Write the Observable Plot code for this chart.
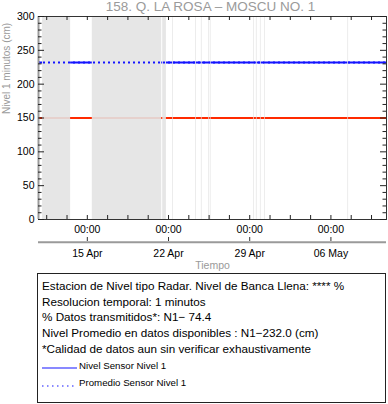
<!DOCTYPE html>
<html><head><meta charset="utf-8">
<script src="https://cdn.jsdelivr.net/npm/d3@7"></script>
<script src="https://cdn.jsdelivr.net/npm/@observablehq/plot@0.6"></script>
<style>
body{margin:0;background:#fff;font-family:"Liberation Sans",Arial,sans-serif;}
#wrap{position:relative;width:388px;height:404px;overflow:hidden;}
#chart{position:absolute;left:0;top:0;}
#leyenda{position:absolute;left:37px;top:273px;width:349px;height:130px;border:1px solid #222;box-sizing:border-box;}
.l{position:absolute;left:4px;white-space:nowrap;color:#000;font-size:11.7px;line-height:16px;height:16px;}
.s{position:absolute;left:41px;white-space:nowrap;color:#000;font-size:9.7px;line-height:12px;height:12px;}
.m{position:absolute;left:4px;width:36px;height:4px;overflow:visible;}
</style></head>
<body><div id="wrap"><div id="chart"></div><div id="leyenda"></div></div>
<script>
const titulo = "158. Q. LA ROSA – MOSCU NO. 1";
const etiquetaY = "Nivel 1 minutos (cm)";
const etiquetaX = "Tiempo";
const inicio = "2024-04-10T19:00Z";
const fin = "2024-05-10T19:00Z";
const fechasEtiqueta = ["2024-04-15T00:00Z", "2024-04-22T00:00Z", "2024-04-29T00:00Z", "2024-05-06T00:00Z"];
const etiquetaHora = "00:00";
// periods without transmitted data (gray)
const huecoInicio = ["2024-04-11T03:25Z", "2024-04-15T10:20Z", "2024-04-21T12:00Z", "2024-04-22T08:30Z",
  "2024-04-24T08:10Z", "2024-04-24T20:00Z", "2024-04-25T11:10Z", "2024-04-25T14:30Z", "2024-04-29T08:20Z",
  "2024-04-29T13:50Z", "2024-04-29T22:10Z", "2024-04-30T07:10Z", "2024-05-07T11:00Z"];
const huecoFin = ["2024-04-13T13:25Z", "2024-04-21T09:55Z", "2024-04-21T19:40Z", "2024-04-22T10:00Z",
  "2024-04-24T09:40Z", "2024-04-24T21:30Z", "2024-04-25T12:40Z", "2024-04-25T16:00Z", "2024-04-29T09:50Z",
  "2024-04-29T15:20Z", "2024-04-29T23:40Z", "2024-04-30T08:40Z", "2024-05-07T12:30Z"];
const nivelSensor = 232.0;
const nivelPromedio = 232.0;
const nivelReferencia = 150;
const ticksY = [0, 50, 100, 150, 200, 250, 300];
const textosLeyenda = [
  "Estacion de Nivel tipo Radar. Nivel de Banca Llena: **** %",
  "Resolucion temporal: 1 minutos",
  "% Datos transmitidos*: N1\u2212 74.4",
  "Nivel Promedio en datos disponibles : N1\u2212232.0 (cm)",
  "*Calidad de datos aun sin verificar exhaustivamente"
];
const seriesLeyenda = ["Nivel Sensor Nivel 1", "Promedio Sensor Nivel 1"];

const W = 388, H = 272, mL = 38, mR = 2, mT = 16, mB = 53;
const fw = W - mL - mR, fh = H - mT - mB;
const t0 = new Date(inicio), t1 = new Date(fin);
const huecos = huecoInicio.map((d, i) => ({a: new Date(d), b: new Date(huecoFin[i])}));
const segmentos = [];
let cur = t0;
for (const h of huecos) { segmentos.push({a: cur, b: h.a, v: nivelSensor}); cur = h.b; }
segmentos.push({a: cur, b: t1, v: nivelSensor});
const fechas = fechasEtiqueta.map(d => new Date(d));
const H42 = 42 * 3600 * 1000;
const menoresX = d3.range(-4, 20).map(k => new Date(+fechas[0] + k * H42)).filter(d => d > t0 && d < t1);
const menoresY = d3.range(0, 301, 10).filter(v => v % 50 !== 0);
const gris = "#9a9a9a";
const azul = "#1414ff";

const plot = Plot.plot({
  width: W, height: H, marginLeft: mL, marginRight: mR, marginTop: mT, marginBottom: mB,
  style: {fontFamily: "'Liberation Sans', Arial, sans-serif", fontSize: "10.5px", background: "#fff"},
  x: {type: "utc", domain: [t0, t1], axis: null},
  y: {domain: [0, 300], axis: null},
  marks: [
    Plot.ruleY([nivelReferencia], {y: d => d, stroke: "#ff2a00", strokeWidth: 2}),
    Plot.rect(huecos, {x1: "a", x2: "b", fill: "#e3e3e3", fillOpacity: 0.9}),
    Plot.ruleY(segmentos, {x1: "a", x2: "b", y: "v", stroke: azul, strokeWidth: 2}),
    Plot.ruleY([nivelPromedio], {y: d => d, stroke: azul, strokeWidth: 2, strokeDasharray: "2,3"}),
    Plot.frame({stroke: "#333"}),
    Plot.ruleX([t0], {x: d => d, stroke: gris, strokeWidth: 2}),
    // inward ticks
    Plot.tickY(ticksY, {y: d => d, insetRight: fw - 6, stroke: "#222"}),
    Plot.tickY(menoresY, {y: d => d, insetRight: fw - 3.5, stroke: "#222"}),
    Plot.tickY(ticksY, {y: d => d, insetLeft: fw - 6, stroke: "#222"}),
    Plot.tickY(menoresY, {y: d => d, insetLeft: fw - 3.5, stroke: "#222"}),
    Plot.tickX(menoresX, {x: d => d, insetTop: fh - 4, stroke: "#222"}),
    Plot.tickX(menoresX, {x: d => d, insetBottom: fh - 4, stroke: "#222"}),
    // y labels
    Plot.text(ticksY, {y: d => d, frameAnchor: "left", dx: -4, textAnchor: "end", lineAnchor: "middle", text: d => String(d), fill: "#000", fontSize: 10.5}),
    // x labels
    Plot.text(fechas, {x: d => d, frameAnchor: "bottom", lineAnchor: "middle", dy: 10, text: () => etiquetaHora, fill: "#000", fontSize: 10.5}),
    Plot.ruleY([0], {y: d => d, dy: 22.7, stroke: gris, strokeWidth: 2}),
    Plot.tickX(fechas, {x: d => d, insetTop: fh - 4, dy: 22, stroke: "#333"}),
    Plot.text(fechas, {x: d => d, frameAnchor: "bottom", lineAnchor: "middle", dy: 34, text: d => d3.utcFormat("%d %b")(d), fill: "#000", fontSize: 10.5}),
    Plot.text([etiquetaX], {frameAnchor: "bottom", lineAnchor: "middle", dy: 46, text: d => d, fill: gris, fontSize: 10.5}),
    Plot.text([etiquetaY], {frameAnchor: "left", lineAnchor: "middle", dx: -32, dy: -4, rotate: -90, text: d => d, fill: gris, fontSize: 10}),
    Plot.text([titulo], {frameAnchor: "top", lineAnchor: "middle", dy: -10, dx: -2, text: d => d, fill: gris, fontSize: 13.5})
  ]
});
document.getElementById("chart").appendChild(plot);

const ley = document.getElementById("leyenda");
const centros = [12.7, 28.5, 44.3, 60.1, 75.8];
textosLeyenda.forEach((t, i) => {
  const d = document.createElement("div");
  d.className = "l"; d.textContent = t; d.style.top = (centros[i] - 1 - 8) + "px";
  ley.appendChild(d);
});
const centrosS = [93, 110.3];
const guiones = [null, "1.5,3.5"];
const lineasY = [95.3, 113];
seriesLeyenda.forEach((t, i) => {
  const d = document.createElement("div");
  d.className = "s"; d.textContent = t; d.style.top = (centrosS[i] - 1 - 6) + "px";
  ley.appendChild(d);
  const svg = d3.create("svg").attr("class", "m").attr("width", 36).attr("height", 4)
    .style("top", (lineasY[i] - 1 - 2) + "px");
  const ln = svg.append("line").attr("x1", 0).attr("x2", 35).attr("y1", 2).attr("y2", 2)
    .attr("stroke", azul).attr("stroke-width", 1.2);
  if (guiones[i]) ln.attr("stroke-dasharray", guiones[i]);
  ley.appendChild(svg.node());
});
</script>
</body></html>
